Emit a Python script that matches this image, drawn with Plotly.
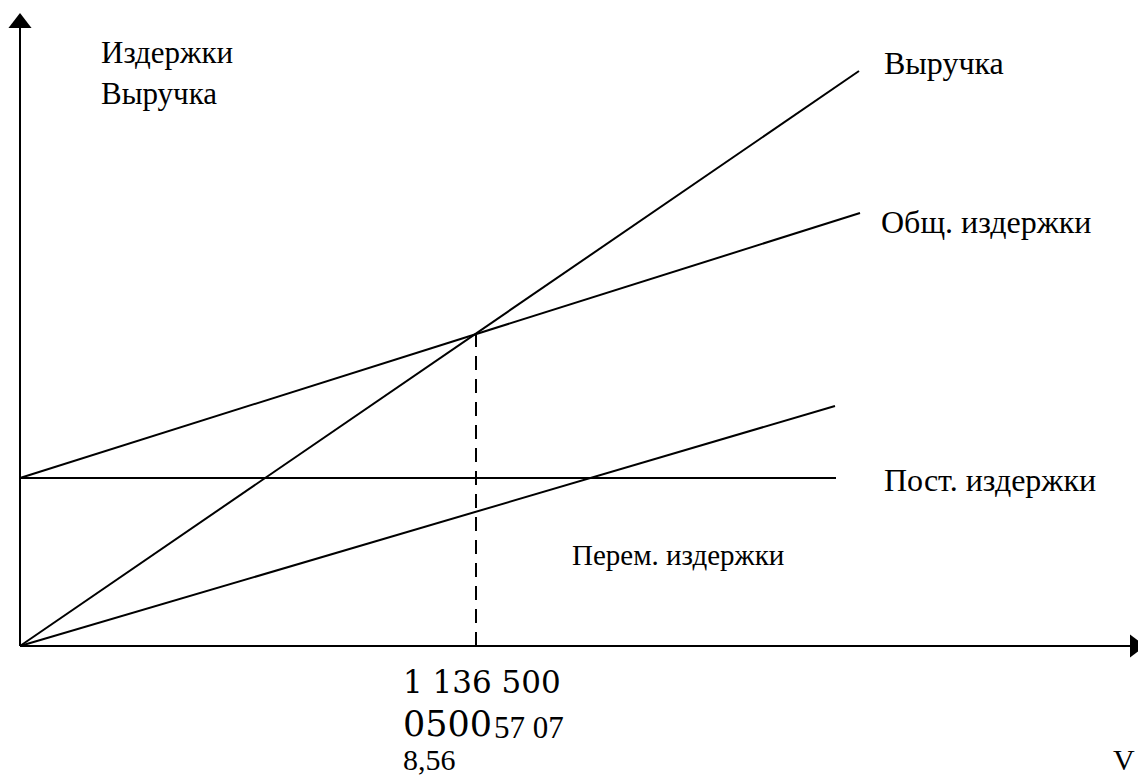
import plotly.graph_objects as go

# Data (chart units)
revenue_x = [0, 839]
revenue_y = [0, 575]
total_x = [0, 840]
total_y = [168, 433]
fixed_x = [0, 816]
fixed_y = [168, 168]
variable_x = [0, 815]
variable_y = [0, 240]
breakeven_x = 456
breakeven_y = 311
axis_x_max = 1125
axis_y_max = 632

BLACK = "#000000"
SERIF = "Liberation Serif"

fig = go.Figure()

def line(xs, ys, dash="solid"):
    fig.add_trace(go.Scatter(x=xs, y=ys, mode="lines",
                             line=dict(color=BLACK, width=2, dash=dash),
                             hoverinfo="skip", showlegend=False))

# axes
line([0, axis_x_max - 14], [0, 0])
line([0, 0], [0, axis_y_max - 14])
fig.add_trace(go.Scatter(x=[axis_x_max - 10], y=[0], mode="markers",
                         marker=dict(symbol="triangle-right", size=20, color=BLACK),
                         hoverinfo="skip", showlegend=False))
fig.add_trace(go.Scatter(x=[0], y=[axis_y_max - 9], mode="markers",
                         marker=dict(symbol="triangle-up", size=20, color=BLACK),
                         hoverinfo="skip", showlegend=False))

line(revenue_x, revenue_y)
line(total_x, total_y)
line(fixed_x, fixed_y)
line(variable_x, variable_y)
line([breakeven_x, breakeven_x], [0, breakeven_y], dash="14px,9px")

def txt(x, y, s, size=32, family=SERIF):
    fig.add_annotation(x=x, y=y, xref="x", yref="y", text=s, showarrow=False,
                       xanchor="left", yanchor="middle", borderpad=0,
                       font=dict(family=family, size=size, color=BLACK))

# page px -> data: x = px - 20, y = 646 - py
txt(80, 646 - 52, "Издержки", size=31)
txt(80, 646 - 93, "Выручка", size=31)
txt(863, 646 - 63, "Выручка")
txt(860, 646 - 222, "Общ. издержки")
txt(863, 646 - 480, "Пост. издержки")
txt(551, 646 - 555, "Перем. издержки", size=29)
txt(382, 646 - 682, "1 136 500", size=31, family="DejaVu Serif")
txt(382, 646 - 724, "0500", size=35, family="DejaVu Serif")
txt(473, 646 - 727, "57 07", size=31)
txt(382, 646 - 759, "8,56", size=30)
txt(1092, 646 - 759, "V", size=30)

# figure is placed 8px into the page (body margin)
fig.update_layout(
    width=1138, height=770,
    margin=dict(l=0, r=0, t=0, b=0),
    paper_bgcolor="white", plot_bgcolor="white",
    xaxis=dict(range=[-12, 1126], visible=False, fixedrange=True),
    yaxis=dict(range=[-132, 638], visible=False, fixedrange=True),
    showlegend=False,
)

fig.write_html("out.html")
